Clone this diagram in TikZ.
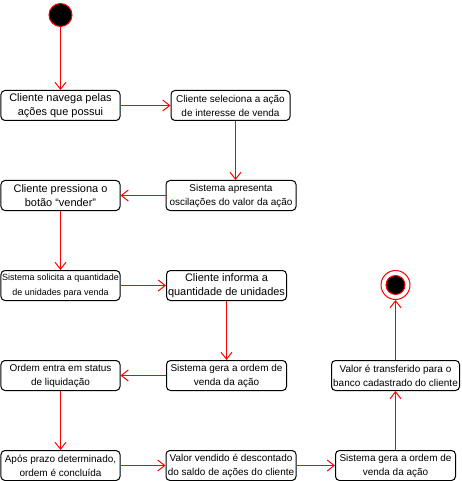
\documentclass[tikz,border=0pt]{standalone}
\usepackage{fontspec}
\setmainfont{Liberation Sans}
\usetikzlibrary{arrows.meta}
\begin{document}
\begin{tikzpicture}[x=1bp,y=-1bp,
  act/.style={draw=black, line width=1bp, rounded corners=4bp, fill=white, align=center,
    inner sep=0pt, minimum height=30bp, text=black, font=\fontsize{10}{14}\selectfont},
  big/.style={font=\fontsize{11}{14}\selectfont},
  small/.style={font=\fontsize{9}{15}\selectfont},
  flow/.style={draw=red, line width=1bp,
    -{Straight Barb[length=7bp,width=11bp,line width=1bp]}}
]
\useasboundingbox (0,0) rectangle (462,481);

% initial and final states
\node[circle, draw=red, fill=black, line width=1bp, minimum size=23bp, inner sep=0pt] (start) at (60.5,15) {};
\node[circle, draw=red, fill=white, line width=1bp, minimum size=29bp, inner sep=0pt] (end) at (395.5,285) {};
\node[circle, draw=red, fill=black, line width=1bp, minimum size=19bp, inner sep=0pt] (endin) at (395.5,285) {};

% activities
\node[act, big, minimum width=119bp] (b1) at (60.5,105.5) {Cliente navega pelas\\ações que possui};
\node[act, minimum width=119bp] (b2) at (230.5,105.5) {Cliente seleciona a ação\\de interesse de venda};
\node[act, big, minimum width=119bp] (b3) at (60.5,195.5) {Cliente pressiona o\\botão “vender”};
\node[act, minimum width=130bp] (b4) at (231,195.5) {Sistema apresenta\\oscilações do valor da ação};
\node[act, small, minimum width=119bp] (b5) at (60.5,285.5) {Sistema solicita a quantidade\\de unidades para venda};
\node[act, big, minimum width=120bp] (b6) at (226.5,285.5) {Cliente informa a\\quantidade de unidades};
\node[act, minimum width=120bp] (b7) at (226.5,375.5) {Sistema gera a ordem de\\venda da ação};
\node[act, minimum width=119bp] (b8) at (60.5,375.5) {Ordem entra em status\\de liquidação};
\node[act, minimum width=119bp] (b9) at (60.5,465.5) {Após prazo determinado,\\ordem é concluída};
\node[act, minimum width=130bp] (b10) at (231,465.5) {Valor vendido é descontado\\do saldo de ações do cliente};
\node[act, minimum width=120bp] (b11) at (395.5,465.5) {Sistema gera a ordem de\\venda da ação};
\node[act, minimum width=128bp] (b12) at (395.5,375.5) {Valor é transferido para o\\banco cadastrado do cliente};

% transitions
\coordinate (xb2) at (235.5,0);
\draw[flow] (start) -- (b1);
\draw[flow] (b1) -- (b2);
\draw[flow] (b2.south -| xb2) -- (b4.north -| xb2);
\draw[flow] (b4) -- (b3);
\draw[flow] (b3) -- (b5);
\draw[flow] (b5) -- (b6);
\draw[flow] (b6) -- (b7);
\draw[flow] (b7) -- (b8);
\draw[flow] (b8) -- (b9);
\draw[flow] (b9) -- (b10);
\draw[flow] (b10) -- (b11);
\draw[flow] (b11) -- (b12);
\draw[flow] (b12) -- (end);
\end{tikzpicture}
\end{document}
